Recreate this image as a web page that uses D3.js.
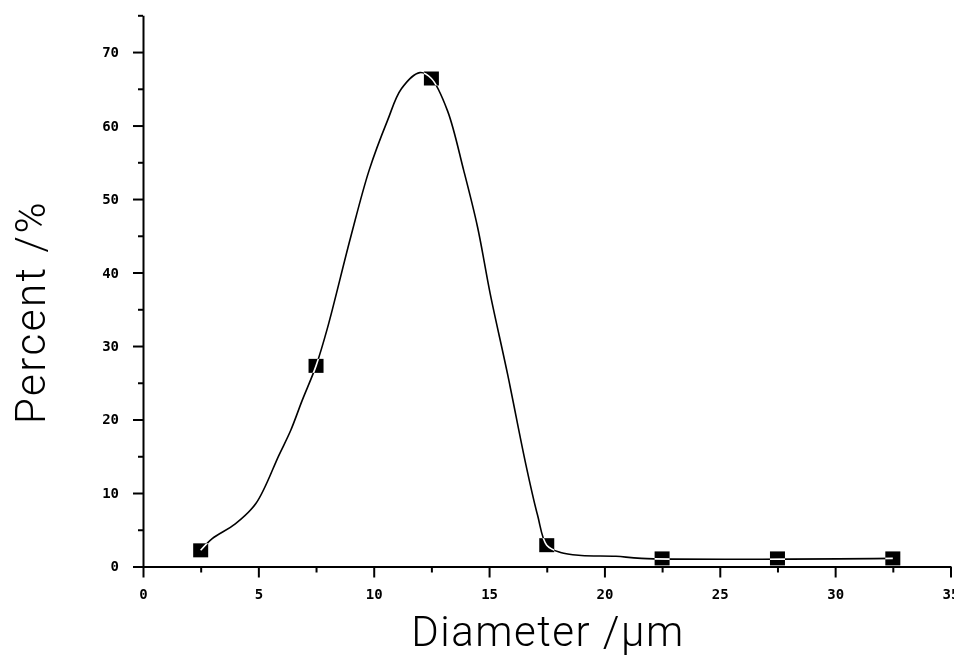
<!DOCTYPE html>
<html>
<head>
<meta charset="utf-8">
<script src="https://cdn.jsdelivr.net/npm/d3@7/dist/d3.min.js"></script>
<style>
  html, body { margin: 0; padding: 0; background: #fff; }
  svg { display: block; }
</style>
</head>
<body>
<svg id="chart" width="954" height="661"></svg>
<script>
// ---- data ----
const pointX = [2.5, 7.5, 12.5, 17.5, 22.5, 27.5, 32.5];
const pointY = [2.2, 27.3, 66.4, 2.9, 1.1, 1.1, 1.1];

const curveX = [2.5, 3.0, 4.0, 4.9, 5.9, 6.4, 6.9, 7.5, 8.0, 9.0, 9.8, 10.6, 11.2, 12.0, 12.5, 13.2, 13.9, 14.5, 15.05, 15.8, 16.6, 17.1, 17.5, 18.1, 19.0, 20.5, 21.6, 32.5];
const curveY = [2.2, 3.8, 5.8, 8.6, 15.2, 18.5, 22.6, 27.3, 32.5, 44.8, 53.9, 60.7, 65.0, 67.2, 66.4, 62.0, 53.9, 46.2, 37.1, 26.2, 13.8, 7.0, 2.9, 1.9, 1.5, 1.4, 1.1, 1.1];

const xMajorTicks = [0, 5, 10, 15, 20, 25, 30, 35];
const xTickLabels = ["0", "5", "10", "15", "20", "25", "30", "35"];
const yMajorTicks = [0, 10, 20, 30, 40, 50, 60, 70];
const yTickLabels = ["0", "10", "20", "30", "40", "50", "60", "70"];
const xLabel = "Diameter /\u03bcm";
const yLabel = "Percent /%";

// ---- layout ----
const svg = d3.select("#chart");
const x = d3.scaleLinear().domain([0, 35]).range([143, 950.5]);
const y = d3.scaleLinear().domain([0, 75]).range([566.5, 15.3]);

svg.append("rect").attr("width", 954).attr("height", 661).attr("fill", "#fff");

const xMinor = d3.range(0, 35, 5).map(v => v + 2.5);
const yMinor = d3.range(0, 75, 10).map(v => v + 5);

// x axis
const gx = svg.append("g").attr("transform", `translate(0,${y(0)})`);
gx.call(d3.axisBottom(x).tickValues(xMinor).tickSize(6).tickFormat(""))
  .call(g => g.select(".domain").remove());
gx.append("g").call(d3.axisBottom(x).tickValues(xMajorTicks).tickSize(11).tickSizeOuter(0)
    .tickFormat((d, i) => xTickLabels[i]).tickPadding(12));
// y axis
const gy = svg.append("g").attr("transform", `translate(${x(0)},0)`);
gy.call(d3.axisLeft(y).tickValues(yMinor).tickSize(5).tickFormat(""))
  .call(g => g.select(".domain").remove());
gy.append("g").call(d3.axisLeft(y).tickValues(yMajorTicks).tickSize(10).tickSizeOuter(0)
    .tickFormat((d, i) => yTickLabels[i]).tickPadding(14));

svg.selectAll(".domain").attr("stroke", "#000").attr("stroke-width", 2);
svg.selectAll(".tick line").attr("stroke", "#000").attr("stroke-width", 2);
svg.selectAll(".tick text")
  .attr("fill", "#000")
  .style("font-family", "'DejaVu Sans Mono', monospace")
  .style("font-weight", "bold")
  .style("font-size", "14px");

// markers
svg.append("g").selectAll("rect").data(pointX).join("rect")
  .attr("x", (d) => x(d) - 7.5)
  .attr("y", (d, i) => y(pointY[i]) - 7)
  .attr("width", 15).attr("height", 14)
  .attr("fill", "#000");

// fitted curve (XOR-like over markers)
const line = d3.line().x((d) => x(d)).y((d, i) => y(curveY[i])).curve(d3.curveCatmullRom.alpha(0.5));
svg.append("path")
  .attr("d", line(curveX))
  .attr("fill", "none")
  .attr("stroke", "#fff")
  .attr("stroke-width", 1.6)
  .style("mix-blend-mode", "difference");

// axis titles
svg.append("text")
  .attr("x", 548).attr("y", 646)
  .attr("text-anchor", "middle")
  .style("font-family", "Roboto, 'Liberation Sans', sans-serif")
  .style("font-weight", 300)
  .style("font-size", "42px")
  .style("letter-spacing", "1.5px")
  .attr("fill", "#000")
  .text(xLabel);
svg.append("text")
  .attr("transform", "translate(45,312) rotate(-90)")
  .attr("text-anchor", "middle")
  .style("font-family", "Roboto, 'Liberation Sans', sans-serif")
  .style("font-weight", 300)
  .style("font-size", "42px")
  .style("letter-spacing", "2.5px")
  .attr("fill", "#000")
  .text(yLabel);
</script>
</body>
</html>
